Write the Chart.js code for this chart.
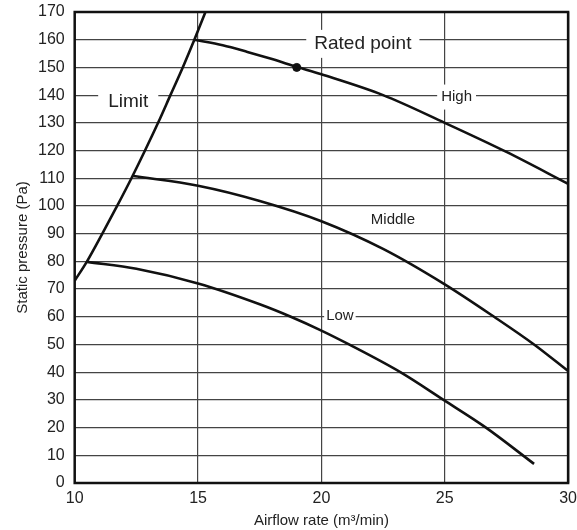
<!DOCTYPE html>
<html>
<head>
<meta charset="utf-8">
<script src="https://cdn.jsdelivr.net/npm/chart.js@4/dist/chart.umd.min.js"></script>
<style>
    html, body { margin: 0; padding: 0; background: #fff; }
    #wrap { width: 577px; height: 530px; }
</style>
</head>
<body>
<div id="wrap"><canvas id="fanChart" width="577" height="530"></canvas></div>
<script>
// Fan curve data
const xTicks = [10, 15, 20, 25, 30];
const yTicks = [0, 10, 20, 30, 40, 50, 60, 70, 80, 90, 100, 110, 120, 130, 140, 150, 160, 170];

const limitX = [10.0, 10.5, 11.12, 11.72, 12.3, 12.85, 13.38, 13.88, 14.38, 14.85, 15.3];
const limitY = [73, 80, 90, 100, 110, 120, 130, 140, 150, 160, 170];

const highX = [14.85, 16, 17, 18, 19, 20, 22.5, 25, 27.5, 30];
const highY = [160, 158, 155.6, 153, 150.2, 147.5, 140, 130, 119.5, 108];

const middleX = [12.37, 15, 17.5, 20, 22.5, 25, 27.0, 28.62, 30];
const middleY = [110.8, 107.3, 101.8, 94.5, 84.5, 71.7, 60, 50, 40.4];

const lowX = [10.51, 12.5, 15, 17.5, 18.76, 20, 21.12, 23.2, 24.95, 26.67, 28.62];
const lowY = [79.8, 77.3, 72, 64.5, 60, 55, 50, 40, 30, 20, 6.9];

const ratedX = [19];
const ratedY = [150];

// Text labels placed on the grid
const noteText = ['Limit', 'Rated point', 'High', 'Middle', 'Low'];
const noteX = [12.17, 21.68, 25.48, 22.9, 20.75];
const noteY = [137.5, 158.5, 139.3, 95, 60.5];

const FONT = "'Liberation Sans', Arial, Helvetica, sans-serif";
const noteStyle = [
    { size: 19, padX: 10, boxH: 26 },
    { size: 19, padX: 8, boxH: 28 },
    { size: 15, padX: 4, boxH: 25 },
    { size: 15, padX: 0, boxH: 0 },
    { size: 15, padX: 2, boxH: 12 }
];

function toPoints(xs, ys) {
    return xs.map((x, i) => ({ x: x, y: ys[i] }));
}

function curve(label, xs, ys) {
    return {
        label: label,
        data: toPoints(xs, ys),
        showLine: true,
        borderColor: '#111',
        borderWidth: 2.6,
        pointRadius: 0,
        cubicInterpolationMode: 'monotone',
        fill: false
    };
}

// white-backed labels sitting on the grid lines
const notesPlugin = {
    id: 'notes',
    beforeDatasetsDraw(chart) {
        const ctx = chart.ctx;
        const xs = chart.scales.x, ys = chart.scales.y;
        ctx.save();
        noteText.forEach((t, i) => {
            const st = noteStyle[i];
            const px = xs.getPixelForValue(noteX[i]);
            const py = ys.getPixelForValue(noteY[i]);
            ctx.font = st.size + 'px ' + FONT;
            const w = ctx.measureText(t).width;
            if (st.boxH > 0) {
                ctx.fillStyle = '#fff';
                ctx.fillRect(px - w / 2 - st.padX, py - st.boxH / 2, w + st.padX * 2, st.boxH);
            }
            ctx.fillStyle = '#222';
            ctx.textAlign = 'center';
            ctx.textBaseline = 'middle';
            ctx.fillText(t, px, py);
        });
        ctx.restore();
    }
};

// heavy frame round the plot area
const framePlugin = {
    id: 'frame',
    afterDatasetsDraw(chart) {
        const a = chart.chartArea;
        const ctx = chart.ctx;
        ctx.save();
        ctx.strokeStyle = '#111';
        ctx.lineWidth = 2.5;
        ctx.strokeRect(a.left, a.top, a.right - a.left, a.bottom - a.top);
        ctx.restore();
    }
};

const ctx = document.getElementById('fanChart').getContext('2d');
new Chart(ctx, {
    type: 'scatter',
    data: {
        datasets: [
            curve('Limit', limitX, limitY),
            curve('High', highX, highY),
            curve('Middle', middleX, middleY),
            curve('Low', lowX, lowY),
            {
                label: 'Rated point',
                data: toPoints(ratedX, ratedY),
                showLine: false,
                pointRadius: 4,
                pointBackgroundColor: '#111',
                pointBorderColor: '#111'
            }
        ]
    },
    options: {
        responsive: false,
        animation: false,
        layout: { padding: { top: 12, right: 0, left: 15, bottom: 2 } },
        plugins: {
            legend: { display: false },
            tooltip: { enabled: false }
        },
        scales: {
            x: {
                type: 'linear',
                min: 10,
                max: 30,
                afterBuildTicks: (axis) => { axis.ticks = xTicks.map(v => ({ value: v })); },
                grid: { color: '#444', lineWidth: 1.2, drawTicks: true, tickLength: 8, tickColor: 'rgba(0,0,0,0)' },
                border: { display: false },
                ticks: { color: '#222', padding: 0, font: { family: FONT, size: 16, lineHeight: 1 } },
                title: {
                    display: true,
                    text: 'Airflow rate (m³/min)',
                    color: '#222',
                    padding: { top: 6, bottom: 0 },
                    font: { family: FONT, size: 15, lineHeight: 1 }
                }
            },
            y: {
                type: 'linear',
                min: 0,
                max: 170,
                afterBuildTicks: (axis) => { axis.ticks = yTicks.map(v => ({ value: v })); },
                grid: { color: '#444', lineWidth: 1.2, drawTicks: true, tickLength: 10, tickColor: 'rgba(0,0,0,0)' },
                border: { display: false },
                ticks: { color: '#222', padding: 0, font: { family: FONT, size: 16, lineHeight: 1 } },
                title: {
                    display: true,
                    text: 'Static pressure (Pa)',
                    color: '#222',
                    padding: { top: 0, bottom: 8 },
                    font: { family: FONT, size: 15, lineHeight: 1 }
                }
            }
        }
    },
    plugins: [notesPlugin, framePlugin]
});
</script>
</body>
</html>
